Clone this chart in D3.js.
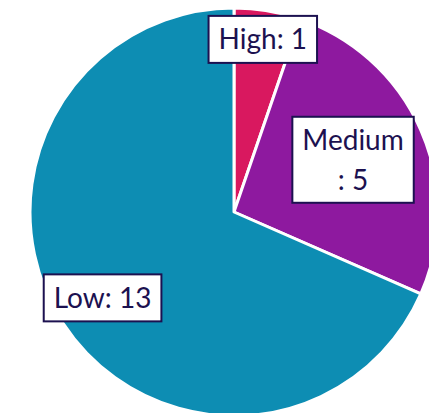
<!DOCTYPE html>
<html>
<head>
  <script src="https://d3js.org/d3.v7.min.js"></script>
  <style>
    body { margin: 0; background: #fff; }
  </style>
</head>
<body>
  <div id="chart"></div>
  <script>
    // chart data
    const categories = ["High", "Medium", "Low"];
    const counts = [1, 5, 13];
    const colors = ["#d9185f", "#8e199f", "#0d8db3"];
    // label text lines (Medium wraps in the original)
    const labelLines = [["High: 1"], ["Medium", ": 5"], ["Low: 13"]];

    const width = 429, height = 413;
    const cx = 234, cy = 212, radius = 204;
    // how far out along each slice's middle the label sits
    const labelRadius = [175, 130, 157];

    const svg = d3.select("#chart").append("svg")
      .attr("width", width).attr("height", height);

    const g = svg.append("g").attr("transform", `translate(${cx},${cy})`);

    const pie = d3.pie().sort(null).value(d => d.value);
    const data = categories.map((c, i) => ({ name: c, value: counts[i], i }));
    const arcs = pie(data);

    const arc = d3.arc().innerRadius(0).outerRadius(radius);

    g.selectAll("path.slice")
      .data(arcs)
      .join("path")
      .attr("class", "slice")
      .attr("d", arc)
      .attr("fill", d => colors[d.data.i])
      .attr("stroke", "#fff")
      .attr("stroke-width", 3)
      .attr("stroke-linejoin", "round");

    const fontSize = 28, lineH = 40;
    const labels = g.selectAll("g.label")
      .data(arcs)
      .join("g")
      .attr("class", "label")
      .attr("transform", d => {
        const a = (d.startAngle + d.endAngle) / 2;
        const r = labelRadius[d.data.i];
        return `translate(${r * Math.sin(a)},${-r * Math.cos(a)})`;
      });

    const rects = labels.append("rect")
      .attr("fill", "#fff")
      .attr("stroke", "#1c1150")
      .attr("stroke-width", 2);

    const texts = labels.append("text")
      .attr("text-anchor", "middle")
      .attr("font-family", "Lato, 'Open Sans', sans-serif")
      .attr("font-size", fontSize)
      .attr("fill", "#1c1150");

    texts.each(function(d) {
      const lines = labelLines[d.data.i];
      const t = d3.select(this);
      const top = -(lines.length - 1) * lineH / 2;
      lines.forEach((ln, k) => {
        t.append("tspan")
          .attr("x", 0)
          .attr("y", top + k * lineH)
          .attr("dy", "0.36em")
          .text(ln);
      });
    });

    rects.each(function(d) {
      const lines = labelLines[d.data.i];
      const txt = d3.select(this.parentNode).select("text").node();
      const w = txt.getComputedTextLength ? d3.max(Array.from(txt.querySelectorAll("tspan")), s => s.getComputedTextLength()) : 90;
      const bw = w + 20;
      const bh = lines.length === 1 ? 47 : 86;
      d3.select(this)
        .attr("x", -bw / 2).attr("y", -bh / 2)
        .attr("width", bw).attr("height", bh);
    });
  </script>
</body>
</html>
